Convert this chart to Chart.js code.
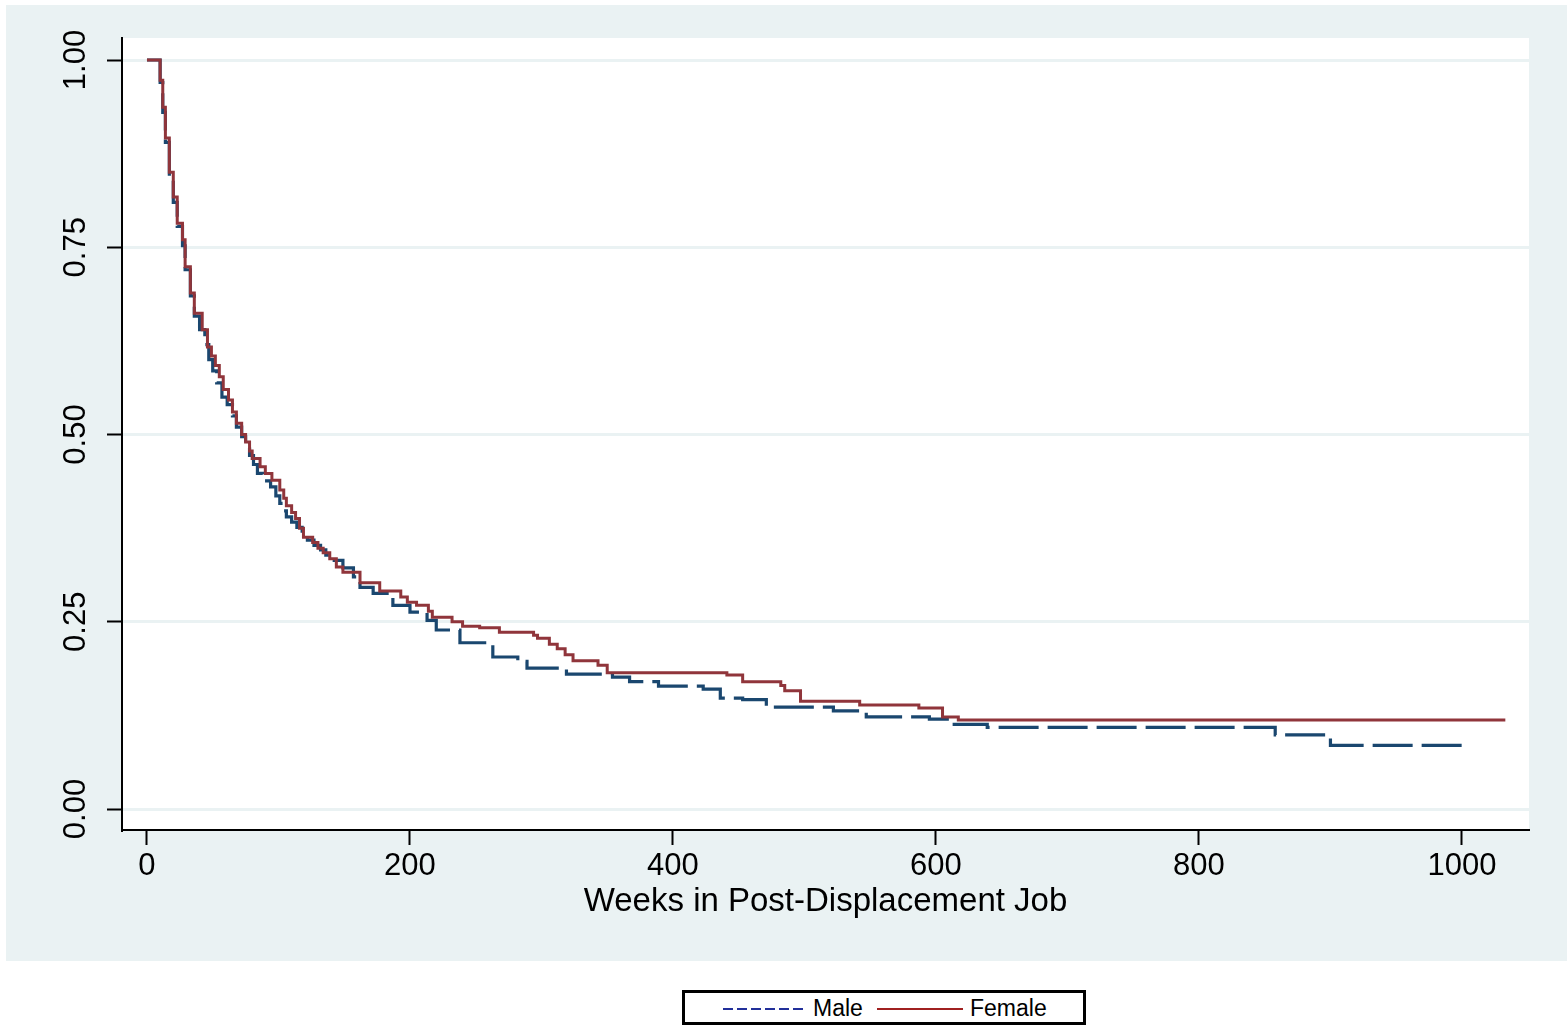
<!DOCTYPE html>
<html>
<head>
<meta charset="utf-8">
<script src="https://cdn.jsdelivr.net/npm/chart.js@4.4.1/dist/chart.umd.min.js"></script>
<style>
  body { margin: 0; background: #fff; width: 1567px; height: 1026px; position: relative; overflow: hidden; font-family: "Liberation Sans", Arial, sans-serif; }
  #wrap { position: absolute; left: 6px; top: 5px; width: 1561px; height: 956px; background: #eaf2f3; }
  #legend { position: absolute; left: 682px; top: 990px; width: 404px; height: 35px; box-sizing: border-box; border: 3px solid #000; background: #fff; }
  #legend svg { position: absolute; top: 13px; }
  #legend span { position: absolute; top: 2px; font-size: 23px; color: #000; }
</style>
</head>
<body>
<div id="wrap"><canvas id="kmChart" width="1561" height="956"></canvas></div>
<div id="legend">
  <svg style="left:38px" width="82" height="6"><line x1="0" y1="3" x2="82" y2="3" stroke="#22309a" stroke-width="2" stroke-dasharray="10,4"/></svg>
  <span style="left:128px">Male</span>
  <svg style="left:192px" width="86" height="6"><line x1="0" y1="3" x2="86" y2="3" stroke="#a02020" stroke-width="2"/></svg>
  <span style="left:285px">Female</span>
</div>
<script>
// ===== Data (Kaplan-Meier survival estimates) =====
const maleWeeks = [0, 10, 12, 14, 17, 20, 23, 27, 29, 33, 36, 40, 44, 47, 50, 53, 57, 61, 65, 68,
  72, 75, 78, 81, 84, 88, 94, 98, 101, 104, 106, 110, 114, 118, 122, 127, 132, 136, 141, 149,
  157, 162, 172, 187, 200, 213, 220, 238, 263, 282, 289, 319, 354, 367, 389, 423, 436, 453, 471, 522,
  547, 595, 611, 639, 858, 900, 1000];
const maleSurv = [1.000, 0.970, 0.930, 0.890, 0.845, 0.810, 0.778, 0.752, 0.720, 0.685, 0.658, 0.640, 0.620, 0.600, 0.585, 0.569, 0.550, 0.540, 0.525, 0.510,
  0.497, 0.486, 0.472, 0.460, 0.448, 0.438, 0.430, 0.418, 0.408, 0.398, 0.390, 0.383, 0.376, 0.366, 0.359, 0.352, 0.346, 0.339, 0.332, 0.322,
  0.310, 0.296, 0.288, 0.272, 0.263, 0.252, 0.239, 0.222, 0.203, 0.197, 0.188, 0.180, 0.176, 0.170, 0.164, 0.160, 0.148, 0.146, 0.136, 0.131,
  0.123, 0.120, 0.113, 0.109, 0.099, 0.085, 0.085];

const femaleWeeks = [0, 10, 12, 14, 17, 20, 23, 27, 29, 33, 36, 42, 46, 49, 52, 55, 58, 62, 65, 68,
  72, 75, 78, 80, 86, 90, 95, 101, 104, 106, 110, 113, 116, 119, 126, 130, 134, 139, 144, 149,
  162, 177, 193, 198, 205, 214, 217, 232, 240, 253, 268, 294, 297, 306, 312, 318, 324, 343, 350, 441,
  453, 482, 485, 497, 542, 587, 605, 617, 1033];
const femaleSurv = [1.000, 0.973, 0.937, 0.896, 0.850, 0.817, 0.782, 0.760, 0.724, 0.689, 0.662, 0.640, 0.617, 0.605, 0.592, 0.577, 0.560, 0.546, 0.530, 0.515,
  0.500, 0.490, 0.478, 0.468, 0.457, 0.448, 0.439, 0.426, 0.415, 0.405, 0.396, 0.388, 0.375, 0.363, 0.356, 0.348, 0.342, 0.334, 0.323, 0.316,
  0.302, 0.291, 0.283, 0.276, 0.272, 0.264, 0.256, 0.250, 0.244, 0.242, 0.236, 0.232, 0.228, 0.220, 0.214, 0.206, 0.198, 0.192, 0.182, 0.179,
  0.170, 0.165, 0.158, 0.144, 0.139, 0.135, 0.123, 0.119, 0.119];

const xTicks = [0, 200, 400, 600, 800, 1000];
const yTicks = [0, 0.25, 0.5, 0.75, 1];

const toPoints = (xs, ys) => xs.map((x, i) => ({ x: x, y: ys[i] }));

// white plot region on the grey graph background
const plotBg = {
    id: 'plotBg',
    beforeDraw(chart) {
        const a = chart.chartArea;
        chart.ctx.save();
        chart.ctx.fillStyle = '#ffffff';
        chart.ctx.fillRect(a.left, a.top, a.right - a.left, a.bottom - a.top);
        chart.ctx.restore();
    }
};

const kmCtx = document.getElementById('kmChart').getContext('2d');
new Chart(kmCtx, {
    type: 'line',
    data: {
        datasets: [
            {
                label: 'Male',
                data: toPoints(maleWeeks, maleSurv),
                borderColor: '#1a476f',
                borderWidth: 3.2,
                borderDash: [40, 9],
                stepped: true,
                pointRadius: 0,
                order: 1
            },
            {
                label: 'Female',
                data: toPoints(femaleWeeks, femaleSurv),
                borderColor: '#90353b',
                borderWidth: 3,
                stepped: true,
                pointRadius: 0,
                order: 0
            }
        ]
    },
    options: {
        responsive: false,
        animation: false,
        layout: { padding: { top: 33, right: 38, left: 0, bottom: 0 } },
        plugins: { legend: { display: false }, tooltip: { enabled: false } },
        scales: {
            x: {
                type: 'linear',
                min: -19,
                max: 1051,
                afterBuildTicks: s => { s.ticks = xTicks.map(v => ({ value: v })); },
                afterFit: s => { s.height = 131; },
                border: { color: '#000', width: 2 },
                grid: { drawOnChartArea: false, tickLength: 15, tickColor: '#000', tickWidth: 2 },
                ticks: {
                    color: '#000',
                    padding: 3,
                    maxRotation: 0,
                    font: { family: 'Liberation Sans', size: 31 },
                    callback: v => String(v)
                },
                title: {
                    display: true,
                    text: 'Weeks in Post-Displacement Job',
                    color: '#000',
                    font: { family: 'Liberation Sans', size: 33 },
                    padding: { top: 0, bottom: 39 }
                }
            },
            y: {
                type: 'linear',
                min: -0.028,
                max: 1.0294,
                afterBuildTicks: s => { s.ticks = yTicks.map(v => ({ value: v })); },
                afterFit: s => { s.width = 116; },
                border: { color: '#000', width: 2 },
                grid: { color: '#eaf2f3', lineWidth: 3, tickLength: 15, tickColor: '#000', tickWidth: 2 },
                ticks: {
                    color: '#000',
                    padding: 0,
                    minRotation: 90,
                    maxRotation: 90,
                    crossAlign: 'center',
                    font: { family: 'Liberation Sans', size: 31 },
                    callback: v => v.toFixed(2)
                }
            }
        }
    },
    plugins: [plotBg]
});
</script>
</body>
</html>
